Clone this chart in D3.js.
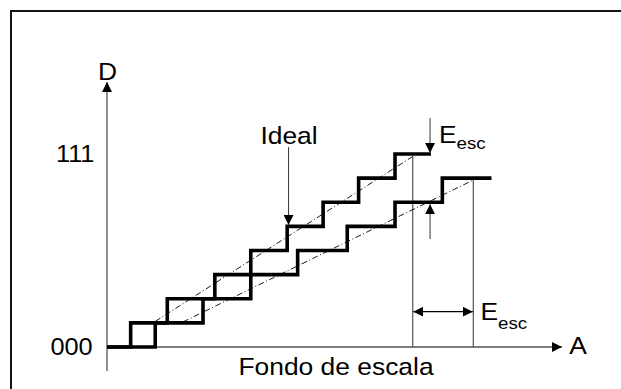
<!DOCTYPE html>
<html>
<head>
<meta charset="utf-8">
<script src="https://cdn.jsdelivr.net/npm/d3@7"></script>
<style>
  html, body { margin: 0; padding: 0; background: #fff; }
  svg { display: block; }
  text { font-family: "Liberation Sans", Arial, Helvetica, sans-serif; fill: #000; }
</style>
</head>
<body>
<svg id="chart" width="621" height="389"></svg>
<script>
// ---- data (A in arbitrary analog units, D in code steps) ----
const codeLevels = [0, 1, 2, 3, 4, 5, 6, 7, 8];
const upperSteps = [0, 5.2, 13.25, 23.7, 31.6, 39.6, 47.5, 55.3, 63.3, 71.2];   // transition inputs, last = end
const lowerSteps = [0, 10.6, 21.1, 31.6, 41.9, 52.8, 63.3, 73.7, 84.5];          // transition inputs, last = end
const idealUpper = [[10.6, 1.06], [67.2, 7.9]];
const idealLower = [[16.7, 1.04], [80.5, 6.92]];
const fullScaleMarks = [67.2, 80.5];
const tickLabels = [{ code: 0, label: "000" }, { code: 8, label: "111" }];
const axisLabels = { x: "A", y: "D", bottom: "Fondo de escala", ideal: "Ideal", err: "E", errSub: "esc" };

const svg = d3.select("#chart");
const x = d3.scaleLinear().domain([0, 100]).range([107, 562]);
const y = d3.scaleLinear().domain([0, 8]).range([347, 154]);

// frame (cut at right and bottom)
svg.append("path").attr("d", "M11,389 V11 H621")
  .attr("fill", "none").attr("stroke", "#111").attr("stroke-width", 2);

// arrow markers
const defs = svg.append("defs");
defs.append("marker").attr("id", "tri").attr("viewBox", "0 0 10 10")
  .attr("refX", 10).attr("refY", 5).attr("markerWidth", 10).attr("markerHeight", 10)
  .attr("markerUnits", "userSpaceOnUse").attr("orient", "auto-start-reverse")
  .append("path").attr("d", "M0,0 L10,5 L0,10 Z").attr("fill", "#000");

// axes
svg.append("line").attr("x1", x(0)).attr("x2", x(0)).attr("y1", 371).attr("y2", 82)
  .attr("stroke", "#555").attr("stroke-width", 1.3).attr("marker-end", "url(#tri)");
svg.append("line").attr("x1", x(0)).attr("x2", 562).attr("y1", y(0)).attr("y2", y(0))
  .attr("stroke", "#555").attr("stroke-width", 1.3).attr("marker-end", "url(#tri)");

// full-scale vertical lines
svg.append("line").attr("x1", x(fullScaleMarks[0])).attr("x2", x(fullScaleMarks[0]))
  .attr("y1", y(7.9)).attr("y2", y(0)).attr("stroke", "#444").attr("stroke-width", 1.1);
svg.append("line").attr("x1", x(fullScaleMarks[1])).attr("x2", x(fullScaleMarks[1]))
  .attr("y1", y(6.92)).attr("y2", y(0)).attr("stroke", "#444").attr("stroke-width", 1.1);

// ideal dash-dot lines
const lineGen = d3.line().x(d => x(d[0])).y(d => y(d[1]));
[idealUpper, idealLower].forEach(pts => {
  svg.append("path").attr("d", lineGen(pts)).attr("fill", "none")
    .attr("stroke", "#000").attr("stroke-width", 0.9).attr("stroke-dasharray", "6,2.5,1,2.5");
});

// staircase curves
function stairs(steps) {
  const pts = [];
  for (let i = 0; i < steps.length - 1; i++) {
    pts.push([steps[i], codeLevels[i]]);
    pts.push([steps[i + 1], codeLevels[i]]);
  }
  return pts;
}
[upperSteps, lowerSteps].forEach(s => {
  svg.append("path").attr("d", lineGen(stairs(s))).attr("fill", "none")
    .attr("stroke", "#000").attr("stroke-width", 3.6).attr("stroke-linejoin", "miter")
    .attr("stroke-linecap", "butt");
});

// Ideal pointer
svg.append("line").attr("x1", x(39.9)).attr("x2", x(39.9)).attr("y1", 147).attr("y2", y(5) - 1.5)
  .attr("stroke", "#444").attr("stroke-width", 1.1).attr("marker-end", "url(#tri)");

// vertical E_esc arrows
svg.append("line").attr("x1", x(71)).attr("x2", x(71)).attr("y1", 118).attr("y2", y(8) - 1)
  .attr("stroke", "#444").attr("stroke-width", 1.1).attr("marker-end", "url(#tri)");
svg.append("line").attr("x1", x(71)).attr("x2", x(71)).attr("y1", 239).attr("y2", y(6) + 2)
  .attr("stroke", "#444").attr("stroke-width", 1.1).attr("marker-end", "url(#tri)");

// horizontal double arrow
svg.append("line").attr("x1", x(fullScaleMarks[0]) + 0.5).attr("x2", x(fullScaleMarks[1]) - 0.5)
  .attr("y1", 311.7).attr("y2", 311.7)
  .attr("stroke", "#000").attr("stroke-width", 1.2)
  .attr("marker-start", "url(#tri)").attr("marker-end", "url(#tri)");

// text helper with horizontal stretch
function txt(str, tx, ty, size, anchor) {
  return svg.append("text").attr("transform", `translate(${tx},${ty}) scale(1.1,1)`)
    .attr("font-size", size).attr("text-anchor", anchor || "start").text(str);
}
tickLabels.forEach(t => {
  txt(t.label, t.code === 0 ? 50.5 : 56, y(t.code) + 8, 23);
});
txt(axisLabels.y, x(0) + 0.5, 79.5, 24, "middle");
txt(axisLabels.x, 578, 354.3, 24, "middle");
txt(axisLabels.bottom, 336, 375, 24, "middle");
txt(axisLabels.ideal, 289, 143.5, 24, "middle");

function errLabel(tx, ty, sub) {
  const t = svg.append("text").attr("transform", `translate(${tx},${ty}) scale(1.1,1)`)
    .attr("font-size", 24);
  t.append("tspan").text(axisLabels.err);
  t.append("tspan").attr("font-size", 17).attr("dy", sub).text(axisLabels.errSub);
}
errLabel(439, 142.5, 6);
errLabel(480.5, 320, 8.5);
</script>
</body>
</html>
